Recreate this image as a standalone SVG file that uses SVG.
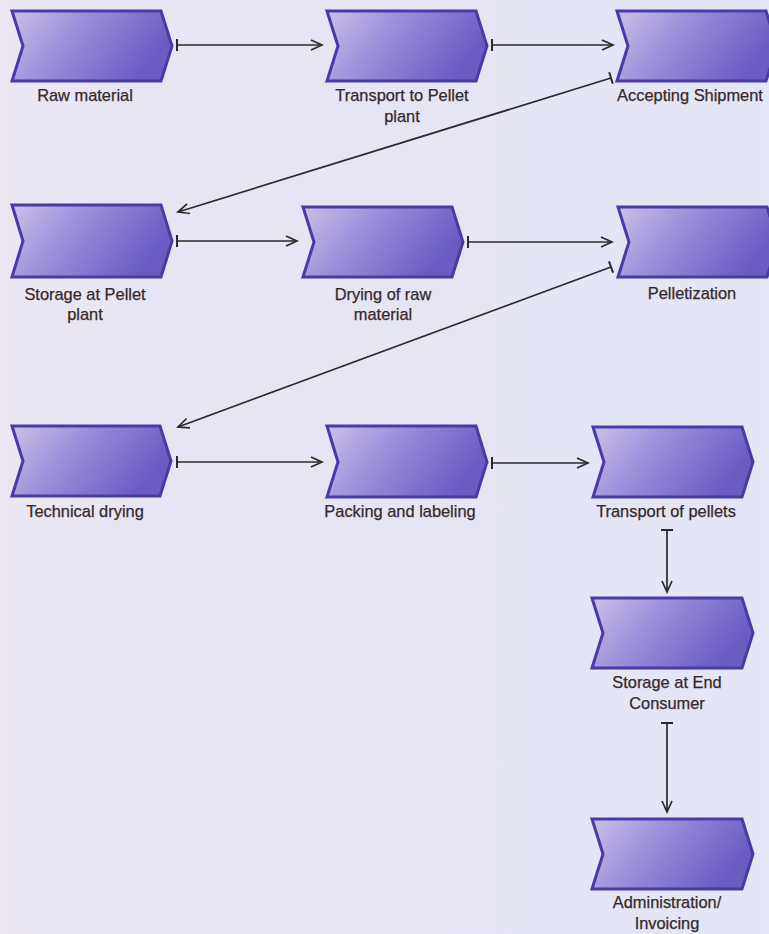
<svg xmlns="http://www.w3.org/2000/svg" width="769" height="934" viewBox="0 0 769 934">
  <defs>
    <linearGradient id="fnFill" x1="0" y1="0" x2="1" y2="0.35">
      <stop offset="0" stop-color="#cbc0e6"/>
      <stop offset="0.45" stop-color="#9a8ddb"/>
      <stop offset="1" stop-color="#6a5cc2"/>
    </linearGradient>
    <linearGradient id="bg" x1="0" y1="0" x2="1" y2="0">
      <stop offset="0" stop-color="#ebe6f2"/>
      <stop offset="0.3" stop-color="#e6e5f4"/>
      <stop offset="1" stop-color="#e4e5f5"/>
    </linearGradient>
    <marker id="tee" markerUnits="userSpaceOnUse" markerWidth="14" markerHeight="14" viewBox="-7 -7 14 14" refX="0" refY="0" orient="auto">
      <path d="M0,-6 L0,6" stroke="#2a2a2a" stroke-width="2" fill="none"/>
    </marker>
    <marker id="arrow" markerUnits="userSpaceOnUse" markerWidth="16" markerHeight="16" viewBox="-14 -8 16 16" refX="0" refY="0" orient="auto">
      <path d="M-11,-5 L0,0 L-11,5" stroke="#2a2a2a" stroke-width="1.7" fill="none"/>
    </marker>
  </defs>
  <style>
    .fn { fill: url(#fnFill); stroke: #4a3aa6; stroke-width: 3; stroke-linejoin: miter; }
    .lbl { font-family: "Liberation Sans", Arial, sans-serif; font-size: 16.4px; fill: #36282a; stroke: #36282a; stroke-width: 0.25; text-anchor: middle; }
    .con { stroke: #2a2a2a; stroke-width: 1.7; fill: none; marker-start: url(#tee); marker-end: url(#arrow); }
  </style>

  <rect x="0" y="0" width="769" height="934" fill="url(#bg)"/>

  <!-- process steps (function chevrons) -->
  <g id="raw-material">
    <polygon class="fn" points="12,11 161,11 172,46 161,81 12,81 23,46"/>
    <text class="lbl" x="85" y="101">Raw material</text>
  </g>
  <g id="transport-to-pellet-plant">
    <polygon class="fn" points="327,11 476,11 487,46 476,81 327,81 338,46"/>
    <text class="lbl" x="402" y="101">Transport to Pellet</text>
    <text class="lbl" x="402" y="122">plant</text>
  </g>
  <g id="accepting-shipment">
    <polygon class="fn" points="617,11 766,11 777,46 766,81 617,81 628,46"/>
    <text class="lbl" x="690" y="101">Accepting Shipment</text>
  </g>

  <g id="storage-at-pellet-plant">
    <polygon class="fn" points="12,205 161,205 172,241 161,277 12,277 23,241"/>
    <text class="lbl" x="85" y="300">Storage at Pellet</text>
    <text class="lbl" x="85" y="320">plant</text>
  </g>
  <g id="drying-of-raw-material">
    <polygon class="fn" points="303,207 452,207 463,242 452,277 303,277 314,242"/>
    <text class="lbl" x="383" y="300">Drying of raw</text>
    <text class="lbl" x="383" y="320">material</text>
  </g>
  <g id="pelletization">
    <polygon class="fn" points="618,207 767,207 778,242 767,277 618,277 629,242"/>
    <text class="lbl" x="692" y="299">Pelletization</text>
  </g>

  <g id="technical-drying">
    <polygon class="fn" points="12,426 160,426 171,461 160,496 12,496 23,461"/>
    <text class="lbl" x="85" y="517">Technical drying</text>
  </g>
  <g id="packing-and-labeling">
    <polygon class="fn" points="327,426 476,426 487,462 476,497 327,497 338,462"/>
    <text class="lbl" x="400" y="517">Packing and labeling</text>
  </g>
  <g id="transport-of-pellets">
    <polygon class="fn" points="593,427 742,427 753,462 742,497 593,497 604,462"/>
    <text class="lbl" x="666" y="517">Transport of pellets</text>
  </g>

  <g id="storage-at-end-consumer">
    <polygon class="fn" points="592,598 742,598 753,633 742,668 592,668 603,633"/>
    <text class="lbl" x="667" y="688">Storage at End</text>
    <text class="lbl" x="667" y="709">Consumer</text>
  </g>
  <g id="administration-invoicing">
    <polygon class="fn" points="592,819 742,819 753,854 742,889 592,889 603,854"/>
    <text class="lbl" x="667" y="908">Administration/</text>
    <text class="lbl" x="667" y="929">Invoicing</text>
  </g>

  <!-- flow connectors -->
  <g id="connectors">
    <line class="con" x1="177" y1="45" x2="322" y2="45"/>
    <line class="con" x1="492" y1="45" x2="613" y2="45"/>
    <line class="con" x1="611" y1="78" x2="178" y2="212"/>
    <line class="con" x1="177" y1="241" x2="297" y2="241"/>
    <line class="con" x1="468" y1="242" x2="612" y2="242"/>
    <line class="con" x1="611" y1="267" x2="178" y2="427"/>
    <line class="con" x1="177" y1="462" x2="322" y2="462"/>
    <line class="con" x1="492" y1="463" x2="588" y2="463"/>
    <line class="con" x1="667" y1="530" x2="667" y2="592"/>
    <line class="con" x1="667" y1="723" x2="667" y2="812"/>
  </g>
</svg>
